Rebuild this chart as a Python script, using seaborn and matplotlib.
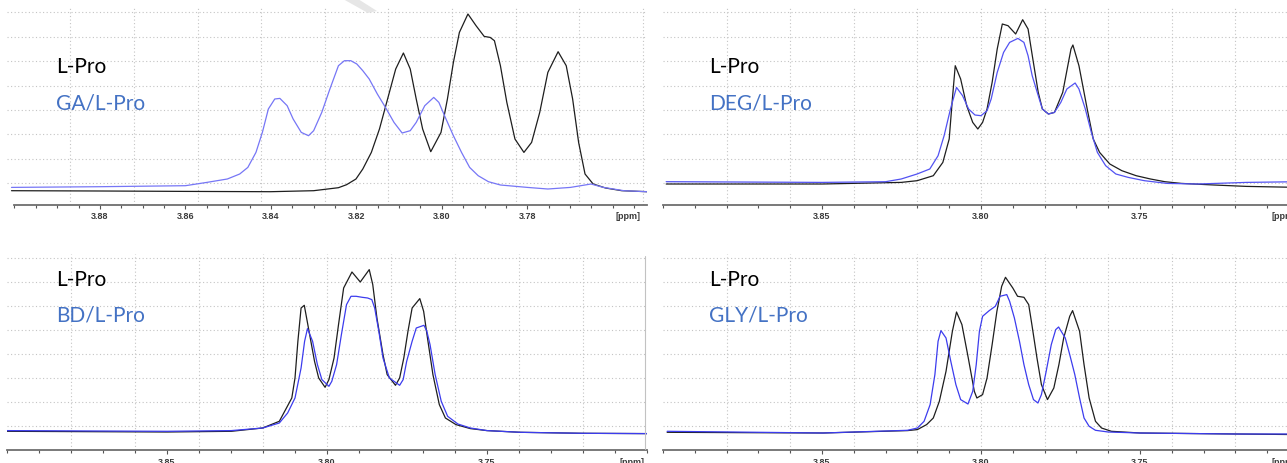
import numpy as np
import pandas as pd
import seaborn as sns
import matplotlib.pyplot as plt
from matplotlib.lines import Line2D
from matplotlib.patches import Polygon

# chemical shift (ppm) and intensity (a.u.)
# --- panel 1: GA/L-Pro ---
ga_ref_ppm = [3.9007, 3.8800, 3.8600, 3.8401, 3.8300, 3.8242, 3.8223, 3.8201, 3.8185, 3.8165,
              3.8146, 3.8127, 3.8108, 3.8090, 3.8074, 3.8060, 3.8045, 3.8026, 3.8002, 3.7987,
              3.7973, 3.7959, 3.7939, 3.7920, 3.7901, 3.7887, 3.7877, 3.7863, 3.7848, 3.7829,
              3.7808, 3.7790, 3.7771, 3.7752, 3.7728, 3.7709, 3.7694, 3.7680, 3.7665, 3.7646,
              3.7617, 3.7579, 3.7520]
ga_ref_int = [14.0, 13.7, 13.3, 13.0, 14.0, 17.0, 20.0, 25.7, 35.7, 52.3,
              75.7, 105.7, 135.7, 151.7, 135.7, 105.7, 75.7, 53.0, 72.3, 105.7,
              142.3, 172.3, 190.7, 179.0, 168.3, 167.3, 164.0, 139.0, 102.3, 65.7,
              52.3, 62.3, 92.3, 132.3, 153.0, 139.0, 105.7, 62.3, 30.7, 20.7,
              16.7, 14.0, 13.0]
ga_mix_ppm = [3.9007, 3.8800, 3.8600, 3.8550, 3.8502, 3.8473, 3.8454, 3.8435, 3.8420, 3.8406,
              3.8391, 3.8379, 3.8362, 3.8348, 3.8329, 3.8312, 3.8300, 3.8281, 3.8262, 3.8242,
              3.8228, 3.8213, 3.8199, 3.8185, 3.8170, 3.8151, 3.8132, 3.8112, 3.8093, 3.8074,
              3.8060, 3.8040, 3.8019, 3.8007, 3.7992, 3.7973, 3.7954, 3.7935, 3.7915, 3.7891,
              3.7863, 3.7800, 3.7752, 3.7699, 3.7651, 3.7622, 3.7574, 3.7520]
ga_mix_int = [17.3, 18.0, 19.0, 22.3, 25.7, 30.7, 37.3, 52.3, 72.3, 95.7,
              105.7, 106.3, 99.0, 85.7, 72.3, 69.0, 74.0, 92.3, 115.7, 139.0,
              144.0, 144.0, 140.7, 134.0, 125.7, 110.7, 97.3, 82.3, 71.7, 74.0,
              82.3, 99.0, 107.3, 102.3, 87.3, 69.0, 52.3, 37.3, 29.0, 23.0,
              19.7, 17.3, 15.7, 17.3, 20.7, 17.3, 14.0, 13.0]

# --- panel 2: DEG/L-Pro ---
deg_ref_ppm = [3.8990, 3.8499, 3.8251, 3.8201, 3.8150, 3.8120, 3.8100, 3.8090, 3.8081, 3.8064,
               3.8045, 3.8026, 3.8010, 3.7995, 3.7981, 3.7965, 3.7949, 3.7933, 3.7915, 3.7891,
               3.7869, 3.7852, 3.7837, 3.7820, 3.7807, 3.7788, 3.7769, 3.7743, 3.7717, 3.7711,
               3.7692, 3.7666, 3.7647, 3.7627, 3.7595, 3.7557, 3.7512, 3.7467, 3.7422, 3.7370,
               3.7267, 3.7165, 3.7000]
deg_ref_int = [20.7, 20.7, 22.3, 24.0, 29.0, 42.3, 65.7, 105.7, 139.0, 125.7,
               99.0, 82.3, 75.7, 82.3, 95.7, 122.3, 155.7, 180.7, 179.0, 170.7,
               185.0, 175.7, 145.7, 112.3, 95.7, 90.7, 92.3, 112.3, 155.7, 159.7,
               139.0, 95.7, 65.7, 52.3, 40.7, 34.0, 29.0, 25.7, 23.0, 21.3,
               19.7, 18.3, 17.3]
deg_mix_ppm = [3.8990, 3.8499, 3.8300, 3.8251, 3.8201, 3.8161, 3.8135, 3.8116, 3.8096, 3.8077,
               3.8058, 3.8039, 3.8019, 3.8000, 3.7981, 3.7968, 3.7949, 3.7929, 3.7910, 3.7884,
               3.7865, 3.7852, 3.7839, 3.7820, 3.7807, 3.7788, 3.7769, 3.7749, 3.7730, 3.7704,
               3.7692, 3.7672, 3.7653, 3.7634, 3.7608, 3.7576, 3.7537, 3.7486, 3.7415, 3.7319,
               3.7165, 3.7000]
deg_mix_int = [23.0, 22.3, 23.0, 25.7, 30.7, 35.7, 49.0, 69.0, 95.7, 117.3,
               109.0, 95.7, 89.7, 89.0, 94.0, 105.7, 132.3, 152.3, 162.3, 166.3,
               162.3, 149.0, 129.0, 109.0, 95.7, 90.7, 92.3, 102.3, 115.7, 121.7,
               115.7, 95.7, 72.3, 52.3, 39.0, 30.7, 27.3, 24.0, 21.3, 20.7,
               22.3, 23.0]

# --- panel 3: BD/L-Pro ---
bd_ref_ppm = [3.9000, 3.8500, 3.8299, 3.8201, 3.8149, 3.8110, 3.8100, 3.8091, 3.8081, 3.8071,
              3.8058, 3.8039, 3.8026, 3.8006, 3.7994, 3.7978, 3.7964, 3.7948, 3.7922, 3.7896,
              3.7868, 3.7857, 3.7844, 3.7825, 3.7812, 3.7786, 3.7773, 3.7760, 3.7747, 3.7734,
              3.7710, 3.7698, 3.7686, 3.7669, 3.7649, 3.7630, 3.7597, 3.7552, 3.7500, 3.7396,
              3.7201, 3.7000]
bd_ref_int = [19.0, 18.3, 19.0, 22.3, 29.0, 52.3, 72.3, 109.0, 142.3, 145.0,
              122.3, 89.0, 72.3, 63.0, 70.7, 92.3, 125.7, 162.3, 178.3, 168.3,
              180.7, 165.7, 132.3, 95.7, 75.7, 65.0, 72.3, 92.3, 119.0, 142.3,
              151.7, 139.0, 112.3, 75.7, 45.7, 32.3, 25.7, 21.7, 19.7, 18.0,
              17.0, 16.7]
bd_mix_ppm = [3.9000, 3.8500, 3.8299, 3.8201, 3.8149, 3.8123, 3.8100, 3.8081, 3.8070, 3.8061,
              3.8045, 3.8030, 3.8016, 3.7994, 3.7985, 3.7970, 3.7955, 3.7939, 3.7925, 3.7909,
              3.7890, 3.7873, 3.7860, 3.7851, 3.7838, 3.7825, 3.7805, 3.7773, 3.7762, 3.7751,
              3.7734, 3.7721, 3.7697, 3.7688, 3.7678, 3.7662, 3.7643, 3.7623, 3.7591, 3.7552,
              3.7500, 3.7396, 3.7201, 3.7000]
bd_mix_int = [19.7, 19.0, 19.7, 22.3, 27.3, 37.3, 52.3, 82.3, 109.0, 121.7,
              109.0, 85.7, 70.7, 64.0, 69.0, 85.7, 115.7, 145.7, 154.0, 154.0,
              153.0, 152.3, 150.7, 142.3, 119.0, 92.3, 72.3, 65.0, 70.7, 89.0,
              109.0, 122.3, 125.0, 119.0, 105.7, 75.7, 49.0, 34.0, 26.3, 22.3,
              19.7, 18.0, 17.0, 16.7]

# --- panel 4: GLY/L-Pro ---
gly_ref_ppm = [3.8987, 3.8497, 3.8231, 3.8200, 3.8171, 3.8150, 3.8131, 3.8110, 3.8090, 3.8077,
               3.8060, 3.8040, 3.8021, 3.8013, 3.7995, 3.7981, 3.7965, 3.7950, 3.7935, 3.7923,
               3.7900, 3.7885, 3.7865, 3.7850, 3.7840, 3.7824, 3.7810, 3.7791, 3.7771, 3.7755,
               3.7740, 3.7721, 3.7712, 3.7690, 3.7676, 3.7660, 3.7640, 3.7621, 3.7590, 3.7500,
               3.7200, 3.7000]
gly_ref_int = [18.0, 17.3, 19.7, 20.7, 25.7, 32.3, 49.0, 79.0, 119.0, 138.3,
               125.7, 92.3, 59.0, 52.3, 55.7, 72.3, 105.7, 139.0, 164.0, 173.0,
               162.3, 154.0, 153.0, 145.7, 125.7, 92.3, 65.7, 50.7, 62.3, 85.7,
               112.3, 134.0, 139.7, 119.0, 85.7, 52.3, 29.0, 22.3, 19.0, 17.3,
               16.3, 15.7]
gly_mix_ppm = [3.8987, 3.8497, 3.8231, 3.8200, 3.8179, 3.8160, 3.8145, 3.8135, 3.8126, 3.8110,
               3.8095, 3.8079, 3.8064, 3.8041, 3.8026, 3.8015, 3.8005, 3.7995, 3.7974, 3.7955,
               3.7940, 3.7919, 3.7910, 3.7895, 3.7879, 3.7865, 3.7850, 3.7835, 3.7821, 3.7810,
               3.7795, 3.7779, 3.7765, 3.7756, 3.7735, 3.7721, 3.7705, 3.7690, 3.7676, 3.7660,
               3.7640, 3.7600, 3.7500, 3.7200, 3.7000]
gly_mix_int = [19.0, 17.3, 20.0, 22.3, 29.0, 45.7, 75.7, 109.0, 119.7, 112.3,
               89.0, 65.7, 50.7, 46.3, 59.0, 85.7, 119.0, 134.0, 139.7, 144.0,
               154.0, 155.7, 149.0, 132.3, 109.0, 85.7, 65.7, 50.7, 47.3, 55.7,
               79.0, 105.7, 120.7, 123.3, 112.3, 95.7, 75.7, 52.3, 32.3, 24.0,
               20.0, 18.3, 17.3, 16.3, 16.3]

mix_labels = ['GA/L-Pro', 'DEG/L-Pro', 'BD/L-Pro', 'GLY/L-Pro']

W, H = 1287, 464
sns.set_theme(style='white')
plt.rcParams['font.family'] = ['Lato', 'DejaVu Sans']

fig = plt.figure(figsize=(W / 100, H / 100), dpi=100)
fig.patch.set_facecolor('white')


def px_axes(left, top, right, bottom):
    return fig.add_axes([left / W, 1 - bottom / H, (right - left) / W, (bottom - top) / H])


def draw_panel(ax, ref_ppm, ref_int, mix_ppm, mix_int, label, mix_color, xlim, ylim,
               majors, minor_step, vgrid, hgrid, ppm_x):
    df = pd.concat([
        pd.DataFrame({'ppm': ref_ppm, 'intensity': ref_int, 'sample': 'L-Pro'}),
        pd.DataFrame({'ppm': mix_ppm, 'intensity': mix_int, 'sample': label}),
    ])
    ax.set_facecolor('none')
    grid_kw = dict(color='#c4c4c4', lw=0.8, linestyle=(0, (1, 2.2)), zorder=0)
    ax.vlines(vgrid, 0, hgrid[-1] + 4, **grid_kw)
    ax.hlines(hgrid, xlim[0], xlim[1], **grid_kw)
    sns.lineplot(data=df, x='ppm', y='intensity', hue='sample',
                 hue_order=['L-Pro', label],
                 palette={'L-Pro': '#1e1e1e', label: mix_color},
                 estimator=None, sort=True, legend=False, lw=0.9, ax=ax)
    for ln in ax.get_lines():
        ln.set_solid_joinstyle('round')
    ax.set_xlim(*xlim)
    ax.set_ylim(*ylim)
    for side in ['left', 'top', 'right']:
        ax.spines[side].set_visible(False)
    ax.spines['bottom'].set_color('#6e6e6e')
    ax.spines['bottom'].set_linewidth(1.3)
    ax.spines['bottom'].set_bounds(3.90, xlim[1])
    ax.set_yticks([])
    ax.set_xlabel('')
    ax.set_ylabel('')
    ax.set_xticks(majors, labels=[f'{v:.2f}' for v in majors],
                  fontsize=6.5, fontweight='bold', color='#3a3a3a', family='Liberation Sans')
    minors = np.arange(3.90, xlim[1] - 1e-6, -minor_step)
    ax.set_xticks(minors, minor=True)
    ax.tick_params(axis='x', which='major', direction='out', length=3.2, width=0.8,
                   color='#555555', pad=1.6, bottom=True)
    ax.tick_params(axis='x', which='minor', direction='out', length=2.4, width=0.8,
                   color='#555555', bottom=True)
    ax.annotate('[ppm]', xy=(ppm_x, 0), xycoords='axes fraction', xytext=(0, -7.8),
                textcoords='offset points', ha='center', va='center',
                fontsize=6.5, fontweight='bold', color='#3a3a3a', family='Liberation Sans')
    ax.grid(False)


top_h = np.arange(8) * 24.4 + 21.6
bot_h = np.arange(8) * 24.1 + 24.0
grid_002 = np.arange(3.88, 3.715, -0.02)

ax1 = px_axes(6.8, 0, 647, 205.7)
draw_panel(ax1, ga_ref_ppm, ga_ref_int, ga_mix_ppm, ga_mix_int, mix_labels[0], '#7676f6',
           (3.9018, 3.752), (0, 205.7), [3.88, 3.86, 3.84, 3.82, 3.80, 3.78], 0.005,
           np.linspace(3.9018, 3.7530, 11)[1:], top_h, 0.970)

ax2 = px_axes(663, 0, 1299, 205.7)
draw_panel(ax2, deg_ref_ppm, deg_ref_int, deg_mix_ppm, deg_mix_int, mix_labels[1], '#5252f2',
           (3.90, 3.70), (0, 205.7), [3.85, 3.80, 3.75], 0.01, grid_002, top_h, 0.976)

ax3 = px_axes(7, 236, 647, 451.3)
draw_panel(ax3, bd_ref_ppm, bd_ref_int, bd_mix_ppm, bd_mix_int, mix_labels[2], '#3c3cee',
           (3.90, 3.70), (0, 215.3), [3.85, 3.80, 3.75], 0.01, grid_002, bot_h, 0.977)

ax4 = px_axes(663, 236, 1299, 451.3)
draw_panel(ax4, gly_ref_ppm, gly_ref_int, gly_mix_ppm, gly_mix_int, mix_labels[3], '#3c3cee',
           (3.90, 3.70), (0, 215.3), [3.85, 3.80, 3.75], 0.01, grid_002, bot_h, 0.976)

# sample labels
label_pos = [(56, 67, 103), (709, 67, 103), (56, 280, 315), (709, 280, 315)]
for (x, y_ref, y_mix), lab in zip(label_pos, mix_labels):
    fig.text(x / W, 1 - y_ref / H, 'L-Pro', color='black', fontsize=15, va='center', ha='left')
    fig.text(x / W, 1 - y_mix / H, lab, color='#4472c4', fontsize=15, va='center', ha='left')

# thin frame edge between the two lower screenshots
fig.add_artist(Line2D([645 / W, 645 / W], [1 - 257 / H, 1 - 450 / H], color='#c2c2c2', lw=0.8))

# faint grey stroke left over at the top edge of the first screenshot
stroke = [(343, 0), (358, 0), (377, 12), (368, 14)]
fig.add_artist(Polygon([(x / W, 1 - y / H) for x, y in stroke], closed=True,
                       facecolor='#e6e6e6', edgecolor='none'))

fig.savefig('out.png', dpi=100, facecolor='white')
